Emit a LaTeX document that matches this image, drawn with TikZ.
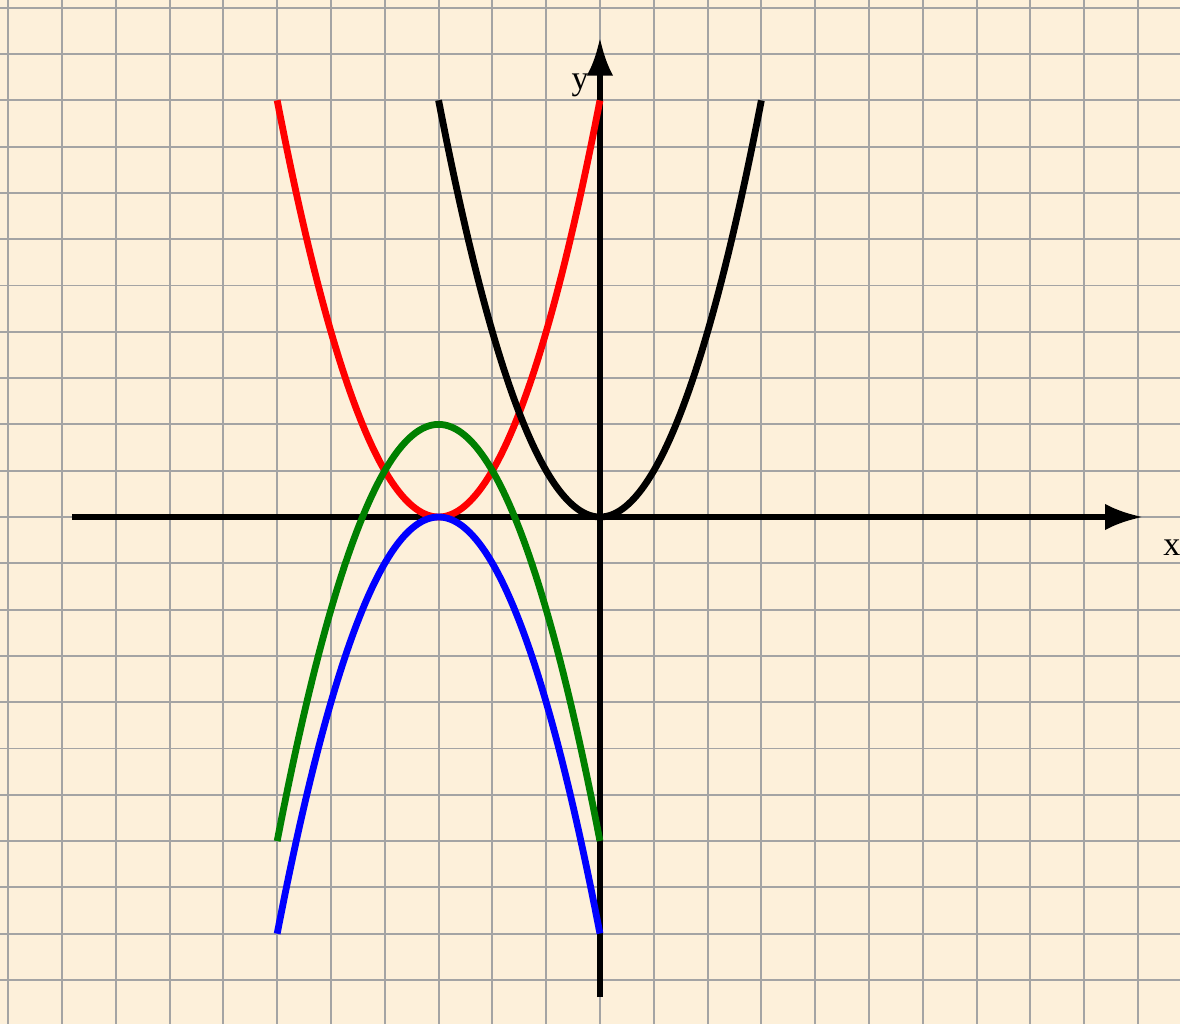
\documentclass[tikz,border=0pt]{standalone}
\usepackage{fontspec}
\setmainfont{Liberation Serif}
\usetikzlibrary{arrows.meta}
\definecolor{paper}{HTML}{FDF0DA}
\definecolor{rule}{HTML}{A4A4A4}
\definecolor{leaf}{HTML}{008000}
\tikzset{
  axisline/.style={line width=3pt,-{Latex[length=20pt,width=14pt]}},
  curve/.style={line width=3.6pt,samples=120,smooth}
}

\begin{document}
\begin{tikzpicture}[x=1cm,y=0.8606cm,font=\fontsize{18}{20}\selectfont]
  % paper and grid
  \fill[paper] (-11.152,-10.95) rectangle (10.781,11.166);
  \useasboundingbox (-11.152,-10.95) rectangle (10.781,11.166);
  \draw[rule,line width=1pt,xstep=1cm,ystep=0.8606cm] (-11.152,-10.95) grid (10.781,11.166);
  % axes
  \draw[axisline] (-9.81,0) -- (10.09,0);
  \draw[axisline] (0,-10.37) -- (0,10.35);
  \node (xlabel) at (10.63,-0.67){x};
  \node (ylabel) at (-0.37,9.33){y};
  % y=(x+3)^2 (red)
  \draw[curve,red,domain=-6:0] plot (\x,{(\x+3)^2});
  % y=-(x+3)^2+2 (green)
  \draw[curve,leaf,domain=-6:0] plot (\x,{-(\x+3)^2+2});
  % y=-(x+3)^2 (blue)
  \draw[curve,blue,domain=-6:0] plot (\x,{-(\x+3)^2});
  % y=x^2 (black)
  \draw[curve,black,domain=-3:3] plot (\x,{(\x)^2});
\end{tikzpicture}
\end{document}
